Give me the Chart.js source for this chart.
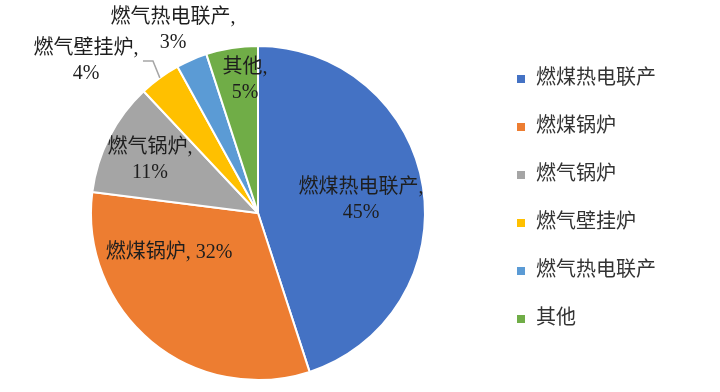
<!DOCTYPE html>
<html><head><meta charset="utf-8">
<script src="https://cdn.jsdelivr.net/npm/chart.js@4/dist/chart.umd.min.js"></script>
<style>html,body{margin:0;padding:0;background:#fff}#wrap{width:720px;height:392px}</style>
</head><body><div id="wrap"><canvas id="c" width="720" height="392"></canvas></div>
<script>
const categories = ['燃煤热电联产','燃煤锅炉','燃气锅炉','燃气壁挂炉','燃气热电联产','其他'];
const shares = [45, 32, 11, 4, 3, 5];
const colors = ['#4472C4','#ED7D31','#A5A5A5','#FFC000','#5B9BD5','#70AD47'];

const FONT = '"Liberation Serif", "Noto Sans CJK SC", serif';

// label placement, in units of the pie radius relative to its centre
const labelLayout = [
  {dx: 0.617, dy: -0.078, split: true},
  {dx: -0.533, dy: 0.240, split: false},
  {dx: -0.647, dy: -0.314, split: true},
  {dx: -1.03, dy: -0.907, split: true, leader: {ex: -0.629, ey: -0.910, tail: 10}},
  {dx: -0.509, dy: -1.093, split: true},
  {dx: -0.078, dy: -0.796, split: true}
];

const labelPlugin = {
  id: 'sliceLabels',
  afterDatasetsDraw(chart) {
    const ctx = chart.ctx;
    const meta = chart.getDatasetMeta(0);
    ctx.save();
    ctx.font = '20px ' + FONT;
    ctx.fillStyle = '#1e1e1e';
    ctx.textAlign = 'center';
    ctx.textBaseline = 'middle';
    meta.data.forEach((arc, i) => {
      const L = labelLayout[i];
      const r = arc.outerRadius, cx = arc.x, cy = arc.y;
      const tx = cx + L.dx * r, ty = cy + L.dy * r;
      const name = chart.data.labels[i];
      const val = chart.data.datasets[0].data[i] + '%';
      const lines = L.split ? [name + ',', val] : [name + ', ' + val];
      const lh = 25;
      const y0 = ty - (lines.length - 1) * lh / 2;
      lines.forEach((t, k) => ctx.fillText(t, tx, y0 + k * lh));
      if (L.leader) {
        const a = (arc.startAngle + arc.endAngle) / 2;
        const px = cx + r * Math.cos(a), py = cy + r * Math.sin(a);
        const ex = cx + L.leader.ex * r, ey = cy + L.leader.ey * r;
        ctx.strokeStyle = '#A6A6A6';
        ctx.lineWidth = 1.5;
        ctx.beginPath();
        ctx.moveTo(px, py);
        ctx.lineTo(ex, ey);
        ctx.lineTo(ex - L.leader.tail, ey);
        ctx.stroke();
      }
    });
    ctx.restore();
  }
};

new Chart(document.getElementById('c'), {
  type: 'pie',
  data: {
    labels: categories,
    datasets: [{
      data: shares,
      backgroundColor: colors,
      borderColor: '#ffffff',
      borderWidth: 2
    }]
  },
  options: {
    responsive: false,
    animation: false,
    devicePixelRatio: 1,
    radius: 167,
    layout: {padding: {top: 41, bottom: 7, left: 28, right: 54}},
    plugins: {
      tooltip: {enabled: false},
      legend: {
        position: 'right',
        align: 'start',
        labels: {
          boxWidth: 10,
          boxHeight: 10,
          padding: 28,
          color: '#333333',
          font: {size: 20, family: FONT}
        }
      }
    }
  },
  plugins: [labelPlugin]
});
</script>
</body></html>
